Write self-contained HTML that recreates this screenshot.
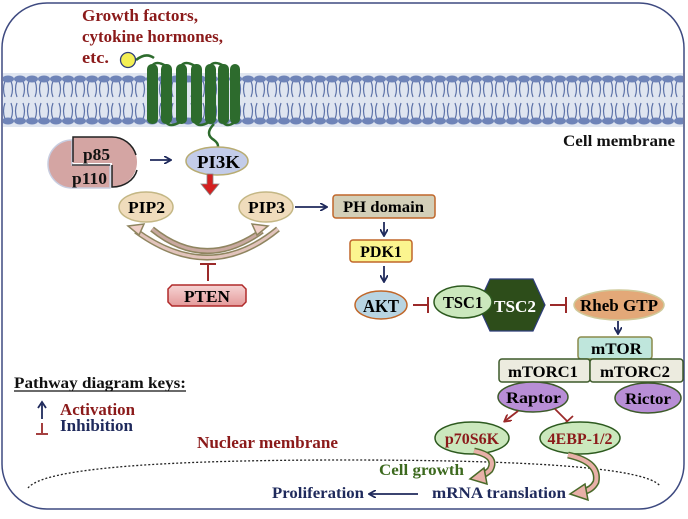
<!DOCTYPE html>
<html><head><meta charset="utf-8"><style>
html,body{margin:0;padding:0;background:#fff;}
svg text{font-family:"Liberation Serif",serif;font-weight:bold;}
</style></head><body>
<svg width="688" height="514" viewBox="0 0 688 514" xmlns="http://www.w3.org/2000/svg">
<defs>
<pattern id="lip" x="2" y="73" width="12" height="54" patternUnits="userSpaceOnUse">
<rect width="12" height="54" fill="#dfe5f0"/>
<path d="M3 8 q-3 8 0 16 M9 8 q3 8 0 16 M3 30 q-3 8 0 16 M9 30 q3 8 0 16" stroke="#5d72a8" stroke-width="1.2" fill="none"/>
<ellipse cx="6" cy="6" rx="6" ry="3.5" fill="#6f84b8"/>
<ellipse cx="6" cy="48" rx="6" ry="3.5" fill="#6f84b8"/>
</pattern>
<marker id="ab" markerWidth="8" markerHeight="8" refX="6" refY="4" orient="auto" markerUnits="userSpaceOnUse"><path d="M0 0 L7 4 L0 8" fill="none" stroke="#1f2a5c" stroke-width="1.8"/></marker>
<marker id="ar" markerWidth="8" markerHeight="8" refX="6" refY="4" orient="auto" markerUnits="userSpaceOnUse"><path d="M0 0 L7 4 L0 8" fill="none" stroke="#9b2a2a" stroke-width="1.8"/></marker>
<linearGradient id="pten" x1="0" y1="0" x2="0" y2="1"><stop offset="0" stop-color="#f6d4d4"/><stop offset="1" stop-color="#e49a9a"/></linearGradient>
</defs>
<rect x="2" y="3" width="682" height="506" rx="45" fill="#fff" stroke="#3e4a80" stroke-width="1.5"/>
<rect x="3" y="73" width="680" height="54" fill="url(#lip)"/>
<!-- receptor -->
<g fill="#2d6b2d">
<rect x="147" y="64" width="11" height="60" rx="5"/><rect x="161" y="64" width="11" height="60" rx="5"/>
<rect x="176" y="64" width="11" height="60" rx="5"/><rect x="191" y="64" width="11" height="60" rx="5"/>
<rect x="205" y="64" width="11" height="60" rx="5"/><rect x="218" y="64" width="11" height="60" rx="5"/>
<rect x="230" y="64" width="10" height="60" rx="5"/>
</g>
<path d="M152 66 q4 -6 14 0 M181 66 q4 -6 14 0 M210 66 q4 -6 14 0 M166 122 q4 6 14 0 M195 122 q4 6 14 0 M223 122 q4 6 12 0" stroke="#2d6b2d" stroke-width="2.5" fill="none"/>
<path d="M136 60 q10 -8 18 -2 M214 124 q-10 10 0 16 q8 6 0 12" stroke="#2d6b2d" stroke-width="2.5" fill="none"/>
<circle cx="128" cy="60" r="7.5" fill="#f3ef55" stroke="#2e3d7a" stroke-width="1.3"/>
<g fill="#8b1a1a" font-size="17">
<text x="82" y="21" textLength="116" lengthAdjust="spacingAndGlyphs">Growth factors,</text>
<text x="82" y="42" textLength="141" lengthAdjust="spacingAndGlyphs">cytokine hormones,</text>
<text x="82" y="63" textLength="27" lengthAdjust="spacingAndGlyphs">etc.</text>
</g>
<text x="563" y="146" font-size="16" fill="#111" textLength="112" lengthAdjust="spacingAndGlyphs">Cell membrane</text>
<!-- p85 p110 -->
<path d="M72 140 A24 24 0 0 0 72 188 H110 V165 H72 Z" fill="#d4a5a3" stroke="#c8cde0" stroke-width="1.5"/>
<path d="M73 137 H112 A25 25 0 0 1 112 187 V163 H73 Z" fill="#d4a5a3"/>
<path d="M73 162 V137 H112 A25 25 0 0 1 136 155" fill="none" stroke="#222" stroke-width="1.5"/>
<path d="M137 170 A25 22 0 0 1 112 187 V165" fill="none" stroke="#222" stroke-width="1.5"/>
<path d="M72 165 H110" stroke="#222" stroke-width="1.2"/>
<text x="83" y="160" font-size="17" fill="#111" textLength="27" lengthAdjust="spacingAndGlyphs">p85</text>
<text x="72" y="184" font-size="17" fill="#111" textLength="35" lengthAdjust="spacingAndGlyphs">p110</text>
<line x1="150" y1="160" x2="170" y2="160" stroke="#1f2a5c" stroke-width="1.8" marker-end="url(#ab)"/>
<ellipse cx="217" cy="161" rx="31" ry="14" fill="#c3cce9" stroke="#b8ac72" stroke-width="1.5"/>
<text x="197" y="168" font-size="18" textLength="43" lengthAdjust="spacingAndGlyphs">PI3K</text>
<path d="M207 174 H213 V184 H219 L210 195 L201 184 H207 Z" fill="#d42020" stroke="#888" stroke-width="0.8"/>
<!-- PIP -->
<ellipse cx="146" cy="207" rx="27" ry="15" fill="#f0dcbc" stroke="#c4b785" stroke-width="1.5"/>
<text x="128" y="213" font-size="17" textLength="37" lengthAdjust="spacingAndGlyphs">PIP2</text>
<ellipse cx="266" cy="207" rx="27" ry="15" fill="#f0dcbc" stroke="#c4b785" stroke-width="1.5"/>
<text x="248" y="213" font-size="17" textLength="37" lengthAdjust="spacingAndGlyphs">PIP3</text>
<path d="M152 229 Q205 272 262 231" fill="none" stroke="#8f8560" stroke-width="6"/>
<path d="M152 229 Q205 272 262 231" fill="none" stroke="#c9a9a0" stroke-width="3"/>
<path d="M278 229 Q210 285 136 231" fill="none" stroke="#8f8560" stroke-width="6"/>
<path d="M278 229 Q210 285 136 231" fill="none" stroke="#e2c4bc" stroke-width="3"/>
<path d="M128 226 l16 -2 l-5 11 z" fill="#f0d0c8" stroke="#8f8560" stroke-width="1.5"/>
<path d="M268 226 l-16 -2 l5 11 z" fill="#f0d0c8" stroke="#8f8560" stroke-width="1.5"/>
<line x1="208" y1="281" x2="208" y2="264" stroke="#9b2a2a" stroke-width="2"/>
<line x1="200" y1="264" x2="216" y2="264" stroke="#9b2a2a" stroke-width="2"/>
<path d="M172 285 H242 L246 289 V302 L242 306 H172 L168 302 V289 Z" fill="url(#pten)" stroke="#b02a2a" stroke-width="1.5"/>
<text x="184" y="302" font-size="17" textLength="46" lengthAdjust="spacingAndGlyphs">PTEN</text>
<!-- PH path -->
<line x1="295" y1="207" x2="326" y2="207" stroke="#1f2a5c" stroke-width="1.8" marker-end="url(#ab)"/>
<rect x="333" y="195" width="102" height="23" rx="3" fill="#d3cfb8" stroke="#c0672a" stroke-width="1.5"/>
<text x="343" y="212" font-size="16" textLength="81" lengthAdjust="spacingAndGlyphs">PH domain</text>
<line x1="384" y1="222" x2="384" y2="235" stroke="#1f2a5c" stroke-width="1.8" marker-end="url(#ab)"/>
<rect x="350" y="240" width="62" height="22" rx="3" fill="#fbf58f" stroke="#c0672a" stroke-width="1.5"/>
<text x="381" y="257" font-size="16" text-anchor="middle">PDK1</text>
<line x1="384" y1="266" x2="384" y2="281" stroke="#1f2a5c" stroke-width="1.8" marker-end="url(#ab)"/>
<ellipse cx="381" cy="305" rx="26" ry="14" fill="#b8d4e2" stroke="#c0672a" stroke-width="1.5"/>
<text x="363" y="312" font-size="18" textLength="36" lengthAdjust="spacingAndGlyphs">AKT</text>
<line x1="413" y1="305" x2="428" y2="305" stroke="#9b2a2a" stroke-width="2"/>
<line x1="428" y1="297" x2="428" y2="313" stroke="#9b2a2a" stroke-width="2"/>
<polygon points="490,279 533,279 545,305 533,331 490,331 478,305" fill="#2d4d1a" stroke="#2e3d7a" stroke-width="1.2"/>
<text x="494" y="312" font-size="17" fill="#fff" textLength="42" lengthAdjust="spacingAndGlyphs">TSC2</text>
<ellipse cx="463" cy="302" rx="29" ry="16" fill="#cbe8bd" stroke="#2d5a1f" stroke-width="1.5"/>
<text x="443" y="308" font-size="17" textLength="40" lengthAdjust="spacingAndGlyphs">TSC1</text>
<line x1="550" y1="305" x2="566" y2="305" stroke="#9b2a2a" stroke-width="2"/>
<line x1="566" y1="297" x2="566" y2="313" stroke="#9b2a2a" stroke-width="2"/>
<ellipse cx="619" cy="305" rx="45" ry="15" fill="#e3a878" stroke="#cfc99a" stroke-width="1.5"/>
<text x="580" y="311" font-size="17" textLength="78" lengthAdjust="spacingAndGlyphs">Rheb GTP</text>
<line x1="618" y1="321" x2="618" y2="333" stroke="#1f2a5c" stroke-width="1.8" marker-end="url(#ab)"/>
<rect x="578" y="337" width="74" height="22" rx="3" fill="#bfe6dc" stroke="#8a8a4a" stroke-width="1.5"/>
<text x="591" y="354" font-size="16" textLength="51" lengthAdjust="spacingAndGlyphs">mTOR</text>
<rect x="499" y="359" width="91" height="23" rx="3" fill="#ecebdf" stroke="#3d5a2a" stroke-width="1.5"/>
<text x="508" y="377" font-size="16" textLength="70" lengthAdjust="spacingAndGlyphs">mTORC1</text>
<rect x="590" y="359" width="93" height="23" rx="3" fill="#ecebdf" stroke="#3d5a2a" stroke-width="1.5"/>
<text x="600" y="377" font-size="16" textLength="70" lengthAdjust="spacingAndGlyphs">mTORC2</text>
<ellipse cx="533" cy="397" rx="35" ry="15" fill="#b88ed6" stroke="#3d5a2a" stroke-width="1.5"/>
<text x="506" y="403" font-size="16" textLength="55" lengthAdjust="spacingAndGlyphs">Raptor</text>
<ellipse cx="648" cy="398" rx="33" ry="15" fill="#b88ed6" stroke="#3d5a2a" stroke-width="1.5"/>
<text x="625" y="404" font-size="16" textLength="46" lengthAdjust="spacingAndGlyphs">Rictor</text>
<line x1="518" y1="411" x2="505" y2="421" stroke="#9b2a2a" stroke-width="1.8" marker-end="url(#ar)"/>
<line x1="555" y1="409" x2="567" y2="421" stroke="#9b2a2a" stroke-width="1.8"/>
<line x1="561" y1="427" x2="573" y2="416" stroke="#9b2a2a" stroke-width="1.8"/>
<ellipse cx="472" cy="438" rx="37" ry="16" fill="#cbe8bd" stroke="#2d5a1f" stroke-width="1.5"/>
<text x="472" y="444" font-size="16" fill="#8b1a1a" text-anchor="middle">p70S6K</text>
<ellipse cx="580" cy="438" rx="40" ry="16" fill="#cbe8bd" stroke="#2d5a1f" stroke-width="1.5"/>
<text x="580" y="444" font-size="16" fill="#8b1a1a" text-anchor="middle">4EBP-1/2</text>
<!-- nuclear -->
<path d="M28 488 Q50 460 345 460 Q640 460 660 486" fill="none" stroke="#222" stroke-width="1.3" stroke-dasharray="2,2"/>
<text x="197" y="448" font-size="17" fill="#8b1a1a" textLength="141" lengthAdjust="spacingAndGlyphs">Nuclear membrane</text>
<!-- curved arrows -->
<path d="M474 451 Q498 456 490 470 Q486 474 480 476" fill="none" stroke="#4a6a2a" stroke-width="7"/>
<path d="M474 451 Q498 456 490 470 Q486 474 480 476" fill="none" stroke="#e8b0a8" stroke-width="4"/>
<path d="M484 468 L470 479 L487 484 Z" fill="#e8b0a8" stroke="#4a6a2a" stroke-width="1.5"/>
<path d="M568 455 Q600 462 596 482 Q592 490 582 492" fill="none" stroke="#4a6a2a" stroke-width="7"/>
<path d="M568 455 Q600 462 596 482 Q592 490 582 492" fill="none" stroke="#e8b0a8" stroke-width="4"/>
<path d="M585 484 L570 494 L588 500 Z" fill="#e8b0a8" stroke="#4a6a2a" stroke-width="1.5"/>
<text x="379" y="475" font-size="16" fill="#3d6a1f" textLength="85" lengthAdjust="spacingAndGlyphs">Cell growth</text>
<text x="432" y="498" font-size="16" fill="#1f2a5c" textLength="134" lengthAdjust="spacingAndGlyphs">mRNA translation</text>
<text x="272" y="498" font-size="16" fill="#1f2a5c" textLength="92" lengthAdjust="spacingAndGlyphs">Proliferation</text>
<line x1="418" y1="494" x2="370" y2="494" stroke="#1f2a5c" stroke-width="1.8" marker-end="url(#ab)"/>
<!-- keys -->
<text x="14" y="388" font-size="16" fill="#111" textLength="172" lengthAdjust="spacingAndGlyphs">Pathway diagram keys:</text>
<line x1="14" y1="391" x2="186" y2="391" stroke="#111" stroke-width="1.2"/>
<line x1="42" y1="419" x2="42" y2="404" stroke="#1f2a5c" stroke-width="1.8"/>
<path d="M38 408 L42 402 L46 408" fill="none" stroke="#1f2a5c" stroke-width="1.8"/>
<text x="60" y="415" font-size="17" fill="#8b1a1a" textLength="75" lengthAdjust="spacingAndGlyphs">Activation</text>
<line x1="42" y1="423" x2="42" y2="433" stroke="#9b2a2a" stroke-width="1.8"/>
<line x1="36" y1="434" x2="48" y2="434" stroke="#9b2a2a" stroke-width="1.8"/>
<text x="60" y="431" font-size="17" fill="#1f2a5c" textLength="73" lengthAdjust="spacingAndGlyphs">Inhibition</text>
</svg>
</body></html>
